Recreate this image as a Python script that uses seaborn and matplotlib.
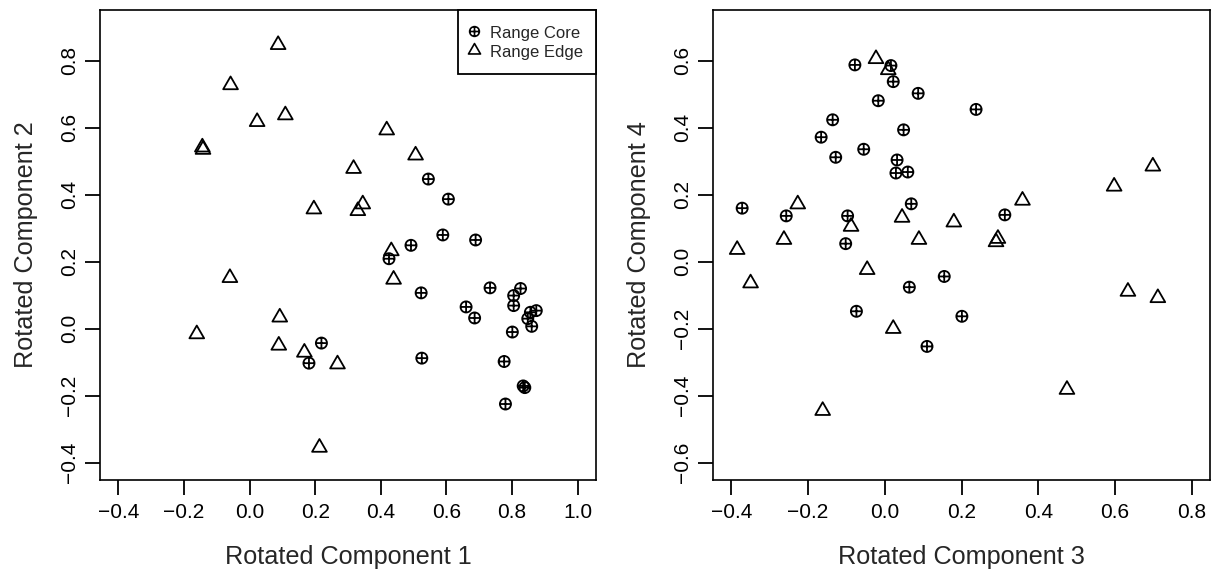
import numpy as np
import pandas as pd
import matplotlib
matplotlib.use("Agg")
import matplotlib.pyplot as plt
from matplotlib.path import Path
from matplotlib.lines import Line2D
import seaborn as sns

# ---------------- data ----------------
groups = ["Range Core", "Range Edge"]

core_rc1 = [0.545, 0.606, 0.589, 0.689, 0.492, 0.425, 0.523, 0.733, 0.826, 0.805,
            0.805, 0.660, 0.686, 0.874, 0.856, 0.848, 0.860, 0.801, 0.525, 0.776,
            0.834, 0.839, 0.780, 0.219, 0.181]
core_rc2 = [0.447, 0.387, 0.280, 0.265, 0.249, 0.209, 0.107, 0.122, 0.120, 0.099,
            0.069, 0.065, 0.032, 0.054, 0.049, 0.030, 0.007, -0.010, -0.088, -0.098,
            -0.171, -0.176, -0.225, -0.043, -0.103]
edge_rc1 = [0.087, -0.058, 0.023, 0.109, -0.144, -0.142, 0.418, 0.506, 0.317, 0.196,
            0.345, 0.330, 0.432, 0.439, -0.060, -0.161, 0.092, 0.089, 0.167, 0.268,
            0.213]
edge_rc2 = [0.848, 0.728, 0.618, 0.638, 0.542, 0.535, 0.593, 0.518, 0.478, 0.357,
            0.372, 0.352, 0.232, 0.147, 0.152, -0.016, 0.034, -0.050, -0.071, -0.106,
            -0.355]

core_rc3 = [-0.078, 0.016, 0.022, 0.087, -0.017, 0.238, -0.136, 0.049, -0.166, -0.055,
            -0.128, 0.032, 0.029, 0.060, 0.069, -0.372, -0.257, -0.097, 0.313, -0.102,
            0.155, 0.064, -0.074, 0.201, 0.110]
core_rc4 = [0.588, 0.586, 0.538, 0.503, 0.481, 0.455, 0.424, 0.394, 0.372, 0.336,
            0.312, 0.304, 0.265, 0.268, 0.173, 0.160, 0.137, 0.137, 0.140, 0.054,
            -0.044, -0.076, -0.148, -0.163, -0.253]
edge_rc3 = [-0.023, 0.009, -0.227, -0.263, -0.385, -0.088, 0.045, 0.180, 0.089, 0.295,
            0.290, 0.359, 0.598, 0.699, -0.046, -0.350, 0.022, -0.162, 0.475, 0.634,
            0.712]
edge_rc4 = [0.606, 0.573, 0.172, 0.066, 0.036, 0.105, 0.132, 0.118, 0.066, 0.069,
            0.059, 0.183, 0.225, 0.285, -0.024, -0.064, -0.200, -0.445, -0.382, -0.089,
            -0.108]

xticks_left = [-0.4, -0.2, 0.0, 0.2, 0.4, 0.6, 0.8, 1.0]
yticks_left = [-0.4, -0.2, 0.0, 0.2, 0.4, 0.6, 0.8]
xticks_right = [-0.4, -0.2, 0.0, 0.2, 0.4, 0.6, 0.8]
yticks_right = [-0.6, -0.4, -0.2, 0.0, 0.2, 0.4, 0.6]

xlabel_left, ylabel_left = "Rotated Component 1", "Rotated Component 2"
xlabel_right, ylabel_right = "Rotated Component 3", "Rotated Component 4"

df_left = pd.DataFrame({
    "x": core_rc1 + edge_rc1,
    "y": core_rc2 + edge_rc2,
    "group": [groups[0]] * len(core_rc1) + [groups[1]] * len(edge_rc1),
})
df_right = pd.DataFrame({
    "x": core_rc3 + edge_rc3,
    "y": core_rc4 + edge_rc4,
    "group": [groups[0]] * len(core_rc3) + [groups[1]] * len(edge_rc3),
})

# ---------------- markers (R pch 10 and pch 2) ----------------
circ = Path.unit_circle()
cp_verts = list(circ.vertices) + [(-1, 0), (1, 0), (0, -1), (0, 1)]
cp_codes = list(circ.codes) + [Path.MOVETO, Path.LINETO, Path.MOVETO, Path.LINETO]
circle_plus = Path(cp_verts, cp_codes)

s3 = np.sqrt(3)
triangle = Path([(0, 1 / s3), (-0.5, -0.5 / s3), (0.5, -0.5 / s3), (0, 1 / s3)],
                [Path.MOVETO, Path.LINETO, Path.LINETO, Path.CLOSEPOLY])

marker_of = {groups[0]: circle_plus, groups[1]: triangle}
size_of = {groups[0]: 64, groups[1]: 150}

# ---------------- style ----------------
sns.set_style("ticks")
plt.rcParams["font.family"] = ["Liberation Sans", "DejaVu Sans"]
plt.rcParams["axes.unicode_minus"] = True
plt.rcParams["axes.edgecolor"] = "black"
plt.rcParams["axes.linewidth"] = 1.2

fig = plt.figure(figsize=(12.14, 5.77), dpi=100)
fig.patch.set_facecolor("white")
ax1 = fig.add_axes([100 / 1214, 1 - 480 / 577, 496 / 1214, 470 / 577])
ax2 = fig.add_axes([713 / 1214, 1 - 480 / 577, 497 / 1214, 470 / 577])


def fmt(v):
    s = f"{abs(v):.1f}"
    return ("\u2212" + s) if v < 0 else s


def draw(ax, df, xt, yt, xl, yl, lims):
    for g in groups:
        sub = df[df["group"] == g]
        sns.scatterplot(data=sub, x="x", y="y", ax=ax, marker=marker_of[g],
                        s=size_of[g], color="black", edgecolor="black",
                        linewidth=1.3, legend=False)
    for coll in ax.collections:
        coll.set_facecolor("none")
        coll.set_edgecolor("black")
    ax.set_xlim(*lims[0])
    ax.set_ylim(*lims[1])
    ax.set_xticks(xt)
    ax.set_yticks(yt)
    ax.set_xticklabels([fmt(v) for v in xt])
    ax.set_yticklabels([fmt(v) for v in yt], rotation=90, va="center")
    ax.tick_params(axis="both", direction="out", length=10.8, width=1.3,
                   labelsize=15, colors="black")
    ax.tick_params(axis="x", pad=6)
    ax.tick_params(axis="y", pad=4)
    ax.set_xlabel(xl, fontsize=18.2, labelpad=16)
    ax.set_ylabel(yl, fontsize=18.2, labelpad=16)
    for sp in ax.spines.values():
        sp.set_visible(True)
        sp.set_color("black")
        sp.set_linewidth(1.2)
    ax.set_facecolor("white")


def ext(a, b):
    d = (b - a) * 0.04
    return (a - d, b + d)


draw(ax1, df_left, xticks_left, yticks_left, xlabel_left, ylabel_left,
     (ext(-0.4, 1.0), ext(-0.4, 0.9)))
draw(ax2, df_right, xticks_right, yticks_right, xlabel_right, ylabel_right,
     (ext(-0.4, 0.8), ext(-0.6, 0.7)))

handles = [
    Line2D([], [], linestyle="none", marker=circle_plus, markersize=7,
           markerfacecolor="none", markeredgecolor="black", markeredgewidth=1.2),
    Line2D([], [], linestyle="none", marker=triangle, markersize=10,
           markerfacecolor="none", markeredgecolor="black", markeredgewidth=1.2),
]
leg = ax1.legend(handles, groups, loc="upper right", borderaxespad=0,
                 fontsize=12, frameon=True, fancybox=False, edgecolor="black",
                 framealpha=1, borderpad=0.8, labelspacing=0.05,
                 handlelength=0.3, handleheight=1.3, handletextpad=0.8)
leg.get_frame().set_linewidth(1.3)

fig.savefig("out.png", dpi=100, facecolor="white")
